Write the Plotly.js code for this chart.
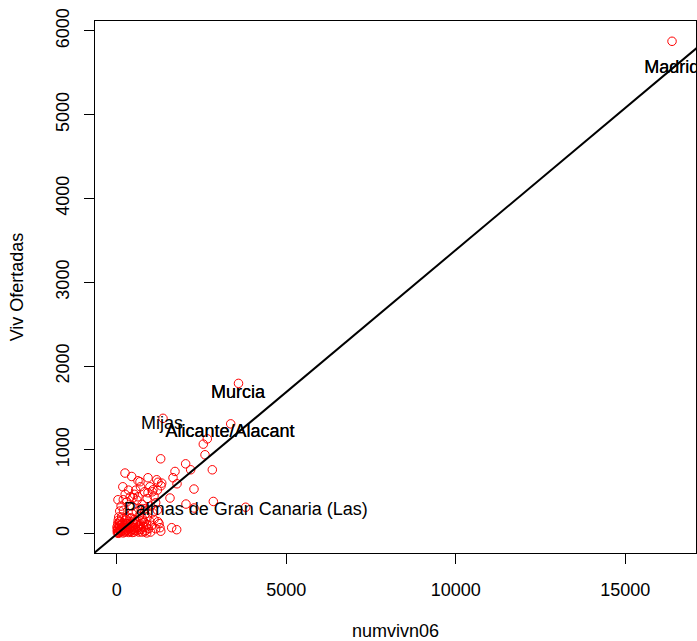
<!DOCTYPE html>
<html>
<head>
<meta charset="utf-8">
<script src="https://cdn.plot.ly/plotly-3.0.1.min.js"></script>
<style>html,body{margin:0;padding:0;background:#fff;}</style>
</head>
<body>
<div id="chart" style="width:697px;height:641px;"></div>
<script>
// numvivn06 (x) vs Viv Ofertadas (y)
const numvivn06 = [
  16381, 3593, 3363, 1366, 3805,
  2673, 2555, 2605, 2034, 2182, 2820, 1298, 245, 443, 1720, 628, 923, 1180, 1328, 1661,
  1779, 1071, 923, 628, 481, 38, 195, 2280, 2044, 2280, 2850, 1572, 1277, 1622, 1770,
  1218, 885, 1307, 687, 1218,
  20, 35, 50, 60, 80, 95, 110, 120, 140, 150, 165, 180, 190, 205, 220, 240, 250, 265, 280, 300,
  310, 325, 340, 355, 370, 385, 400, 420, 440, 455, 470, 490, 510, 525, 545, 560, 580, 600, 620, 640,
  660, 680, 700, 720, 740, 760, 790, 810, 830, 860, 880, 910, 940, 970, 1000, 1030, 1060, 1100, 1150, 1200,
  1250, 1300, 30, 60, 10, 90, 130, 45, 200, 15, 70, 100,
  180, 350, 520, 700, 820, 980, 1100, 1200, 300, 450, 600, 750, 900, 1000, 1150, 400, 250, 560, 850, 1050,
  25, 55, 85, 115, 145, 175, 210, 235, 270, 295, 330, 360, 395, 430, 460, 500, 535, 570, 610, 650,
  690, 730, 770, 820, 870
];
const vivOfertadas = [
  5876, 1794, 1311, 1377, 316,
  1132, 1069, 942, 834, 763, 763, 894, 724, 683, 743, 632, 668, 644, 604, 668,
  596, 524, 489, 441, 429, 405, 405, 533, 354, 307, 385, 426, 72, 72, 48,
  143, 10, 572, 620, 614,
  10, 25, 60, 15, 40, 90, 20, 55, 110, 30, 75, 130, 10, 45, 95, 160, 25, 70, 120, 200,
  40, 85, 140, 15, 60, 110, 180, 30, 90, 240, 50, 130, 20, 170, 70, 110, 260, 35, 150, 90,
  210, 50, 120, 300, 20, 180, 80, 140, 230, 40, 110, 200, 60, 150, 20, 100, 250, 170, 60, 280,
  120, 30, 120, 200, 80, 270, 330, 160, 280, 40, 100, 150,
  560, 520, 470, 560, 500, 560, 450, 520, 380, 330, 400, 350, 420, 330, 370, 440, 470, 520, 300, 500,
  65, 5, 140, 35, 200, 60, 100, 20, 170, 50, 120, 30, 75, 190, 15, 95, 45, 140, 70, 20,
  100, 55, 160, 25, 80
];

// labelled municipalities
const labelNames = ["Madrid", "Murcia", "Mijas", "Alicante/Alacant", "Palmas de Gran Canaria (Las)"];
const labelX = [16372, 3578, 1336, 3342, 3805];
const labelY = [5555, 1668, 1300, 1203, 275];
// labels that are printed twice (overprinted) in the original
const overprinted = ["Madrid", "Murcia", "Alicante/Alacant"];

// fitted line coefficients
const lineIntercept = -5;
const lineSlope = 0.339;
const lineXEnds = [-2000, 20000];

const font = "Liberation Sans, Arial, Helvetica, sans-serif";

const opIdx = labelNames.map((n, i) => overprinted.includes(n) ? i : -1).filter(i => i >= 0);

const textTrace = (xs, ys, ts) => ({
  type: "scatter", mode: "text",
  x: xs, y: ys, text: ts,
  textposition: "middle center",
  textfont: {family: font, size: 18, color: "#000000"},
  cliponaxis: true, showlegend: false, hoverinfo: "skip"
});

const traces = [
  {
    type: "scatter", mode: "markers",
    x: numvivn06, y: vivOfertadas,
    marker: {symbol: "circle-open", size: 8.5, color: "#ff0000", line: {width: 1, color: "#ff0000"}},
    hoverinfo: "x+y", showlegend: false
  },
  {
    type: "scatter", mode: "lines",
    x: lineXEnds, y: lineXEnds.map(v => lineIntercept + lineSlope * v),
    line: {color: "#000000", width: 2}, showlegend: false, hoverinfo: "skip"
  },
  textTrace(labelX, labelY, labelNames),
  textTrace(opIdx.map(i => labelX[i]), opIdx.map(i => labelY[i]), opIdx.map(i => labelNames[i]))
];

const axisCommon = {
  showgrid: false, zeroline: false,
  showline: true, mirror: true, linecolor: "#000000", linewidth: 1,
  ticks: "outside", ticklen: 10, tickwidth: 1, tickcolor: "#000000",
  tickfont: {family: font, size: 18, color: "#000000"},
  automargin: false
};

const layout = {
  width: 697, height: 641,
  margin: {l: 95, r: 1, t: 21, b: 88},
  paper_bgcolor: "#ffffff", plot_bgcolor: "#ffffff",
  showlegend: false,
  font: {family: font, size: 18, color: "#000000"},
  xaxis: Object.assign({}, axisCommon, {
    range: [-640, 17088],
    tickvals: [0, 5000, 10000, 15000],
    ticktext: ["0", "5000", "10000", "15000"],
    ticklabelstandoff: 10,
    title: {text: "numvivn06", font: {family: font, size: 18, color: "#000000"}, standoff: 25}
  }),
  yaxis: Object.assign({}, axisCommon, {
    range: [-230, 6118],
    tickvals: [0, 1000, 2000, 3000, 4000, 5000, 6000],
    ticktext: ["0", "1000", "2000", "3000", "4000", "5000", "6000"],
    tickangle: -90,
    ticklabelstandoff: 8,
    title: {text: "Viv Ofertadas", font: {family: font, size: 18, color: "#000000"}, standoff: 24}
  })
};

Plotly.newPlot("chart", traces, layout, {displayModeBar: false, staticPlot: true});
</script>
</body>
</html>
